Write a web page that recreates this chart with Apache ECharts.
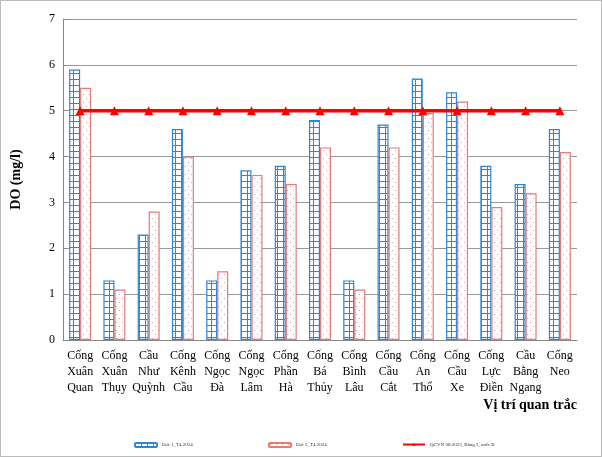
<!DOCTYPE html>
<html><head><meta charset="utf-8">
<script src="https://cdn.jsdelivr.net/npm/echarts@6/dist/echarts.min.js"></script>
<style>html,body{margin:0;padding:0;background:#fff}#c{width:602px;height:457px;box-sizing:border-box;border:1px solid #bbb}</style>
</head><body><div id="c"></div>
<script>
var categories = ['Cống\nXuân\nQuan','Cống\nXuân\nThụy','Cầu\nNhư\nQuỳnh','Cống\nKênh\nCầu','Cống\nNgọc\nĐà','Cống\nNgọc\nLâm','Cống\nPhần\nHà','Cống\nBá\nThủy','Cống\nBình\nLâu','Cống\nCầu\nCắt','Cống\nAn\nThổ','Cống\nCầu\nXe','Cống\nLực\nĐiền','Cầu\nBằng\nNgang','Cống\nNeo'];
var dot1 = [5.9,1.3,2.3,4.6,1.3,3.7,3.8,4.8,1.3,4.7,5.7,5.4,3.8,3.4,4.6];
var dot2 = [5.5,1.1,2.8,4.0,1.5,3.6,3.4,4.2,1.1,4.2,4.95,5.2,2.9,3.2,4.1];
var qcvn = [5,5,5,5,5,5,5,5,5,5,5,5,5,5,5];
var names = ['Đợt 1_T4.2024','Đợt 2_T4.2024','QCVN 08:2023_Bảng 2, mức B'];

function pattern(kind){
  var c = document.createElement('canvas');
  var g = c.getContext('2d');
  if(kind==='grid'){
    c.width=6;c.height=6;
    g.fillStyle='#fff';g.fillRect(0,0,6,6);
    g.fillStyle='#2f86d6';g.fillRect(0,0,6,1);g.fillRect(0,0,1,6);
  } else {
    c.width=6;c.height=8;
    g.fillStyle='#fff';g.fillRect(0,0,6,8);
    g.fillStyle='#e49a9a';g.fillRect(1,1,1,1);g.fillRect(4,5,1,1);
  }
  return {image:c,repeat:'repeat'};
}

function leg(i,left){
  return {top:436,left:left,itemWidth:22,itemHeight:4,orient:'horizontal',
    textStyle:{fontSize:5,color:'#333'},data:[names[i]]};
}

var chart = echarts.init(document.getElementById('c'));
chart.setOption({
  animation:false,
  textStyle:{fontFamily:'Liberation Serif'},
  grid:{left:62,right:24,top:18,bottom:116},
  legend:[leg(0,128),leg(1,262),leg(2,396)],
  xAxis:{type:'category',data:categories,
    name:'Vị trí quan trắc',nameLocation:'end',nameGap:0,
    nameTextStyle:{fontWeight:'bold',fontSize:14,color:'#000',align:'right',verticalAlign:'top',padding:[58,0,0,0]},
    axisLine:{lineStyle:{color:'#888'}},axisTick:{show:false},
    axisLabel:{interval:0,fontSize:12,color:'#000',lineHeight:16,margin:8}},
  yAxis:{type:'value',min:0,max:7,interval:1,
    name:'DO (mg/l)',nameLocation:'middle',nameGap:40,
    nameTextStyle:{fontWeight:'bold',fontSize:14,color:'#000'},
    axisLine:{show:true,lineStyle:{color:'#888'}},axisTick:{show:true,length:4,inside:true},
    axisLabel:{fontSize:12,color:'#000'},
    splitLine:{lineStyle:{color:'#999'}}},
  series:[
    {name:names[0],type:'bar',data:dot1,barWidth:11,barGap:'0%',
      itemStyle:{color:pattern('grid'),borderColor:'#2f86d6',borderWidth:1.2}},
    {name:names[1],type:'bar',data:dot2,barWidth:11,
      itemStyle:{color:pattern('dot'),borderColor:'#e07c7c',borderWidth:1.2}},
    {name:names[2],type:'line',data:qcvn,z:5,
      symbol:'triangle',symbolSize:9,lineStyle:{color:'#ff0000',width:3.5},
      itemStyle:{color:'#ff0000'}}
  ]
});
</script></body></html>
